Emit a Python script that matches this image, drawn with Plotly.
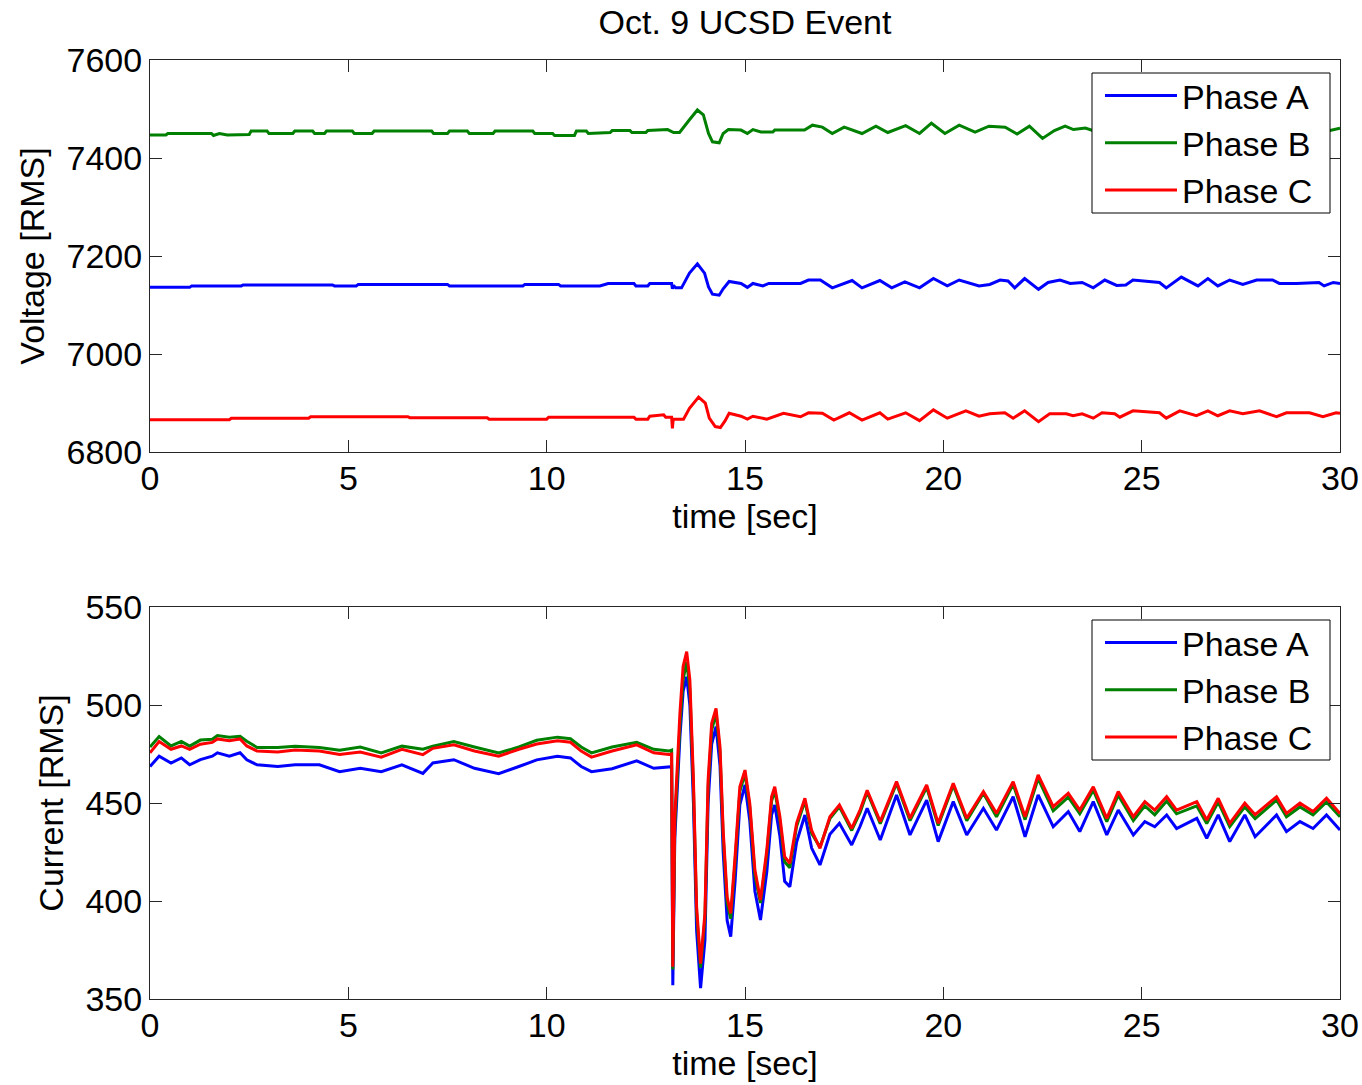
import plotly.graph_objects as go

# ---------------- Voltage data (top panel) ----------------
t_vA = [0, 1.0, 1.05, 2.3, 2.35, 4.6, 4.65, 5.2, 5.25, 7.5, 7.55, 9.4, 9.45, 10.3, 10.35, 11.34,
        11.55, 12.2, 12.25, 12.55, 12.6, 13.15, 13.17, 13.2, 13.25, 13.4, 13.6, 13.8, 13.98, 14.08,
        14.18, 14.35, 14.45, 14.6, 14.9, 15.06, 15.2, 15.45, 15.6, 16.4, 16.6, 16.9, 17.2, 17.7,
        17.95, 18.4, 18.7, 19.03, 19.4, 19.75, 20.1, 20.4, 20.9, 21.17, 21.43, 21.63, 21.8, 22.05,
        22.4, 22.64, 22.94, 23.2, 23.5, 23.78, 24.07, 24.37, 24.6, 24.78, 25.45, 25.62, 26.0, 26.42,
        26.67, 26.92, 27.22, 27.55, 27.9, 28.3, 28.47, 28.9, 29.47, 29.6, 29.83, 30.0]
vA = [7136, 7136, 7139, 7139, 7141, 7141, 7139, 7139, 7142, 7142, 7139, 7139, 7142, 7142, 7139, 7139,
      7144, 7144, 7139, 7139, 7144, 7144, 7133, 7140, 7135, 7135, 7165, 7184, 7165, 7137,
      7122, 7120, 7133, 7148, 7144, 7136, 7144, 7139, 7144, 7144, 7151, 7151, 7135, 7150,
      7135, 7150, 7135, 7147, 7135, 7154, 7139, 7151, 7139, 7142, 7151, 7149, 7135, 7154,
      7132, 7146, 7151, 7144, 7146, 7135, 7151, 7140, 7141, 7151, 7146, 7135, 7157, 7139,
      7154, 7139, 7151, 7142, 7151, 7151, 7144, 7144, 7146, 7139, 7146, 7144]

t_vB = [0, 0.4, 0.45, 1.55, 1.6, 1.75, 1.95, 2.5, 2.55, 2.95, 3.0, 3.6, 3.65, 4.1, 4.15, 4.4, 4.45,
        5.1, 5.15, 5.6, 5.65, 7.1, 7.15, 7.5, 7.55, 8.0, 8.05, 8.65, 8.7, 9.65, 9.7, 10.15, 10.2,
        10.7, 10.75, 11.0, 11.05, 11.6, 11.65, 12.1, 12.15, 12.5, 12.55, 13.05, 13.2, 13.35, 13.6,
        13.8, 13.95, 14.08, 14.18, 14.35, 14.45, 14.58, 14.9, 15.06, 15.2, 15.4, 15.7, 15.75, 16.5,
        16.7, 16.95, 17.2, 17.5, 17.95, 18.3, 18.6, 19.05, 19.4, 19.7, 20.04, 20.4, 20.8, 21.15,
        21.56, 21.86, 22.17, 22.5, 22.8, 23.07, 23.28, 23.58, 23.84, 24.2, 24.6, 25.0, 25.4, 25.9,
        26.3, 26.7, 27.1, 27.6, 28.0, 28.5, 28.9, 29.4, 29.75, 30.0]
vB = [7447, 7447, 7450, 7450, 7446, 7450, 7447, 7448, 7455, 7455, 7450, 7450, 7455, 7455, 7450, 7450, 7455,
      7455, 7450, 7450, 7455, 7455, 7450, 7450, 7455, 7455, 7450, 7450, 7455, 7455, 7450, 7450, 7446,
      7446, 7455, 7455, 7450, 7452, 7456, 7456, 7452, 7452, 7456, 7458, 7452, 7452, 7478,
      7498, 7488, 7450, 7433, 7431, 7450, 7458, 7457, 7450, 7458, 7453, 7453, 7457, 7457,
      7467, 7463, 7450, 7463, 7450, 7465, 7452, 7466, 7450, 7471, 7450, 7467, 7453, 7465,
      7463, 7449, 7465, 7440, 7456, 7465, 7458, 7461, 7454, 7462, 7452, 7460, 7451, 7463,
      7452, 7461, 7450, 7460, 7452, 7461, 7452, 7458, 7456, 7461]

t_vC = [0, 2.0, 2.05, 4.0, 4.05, 6.5, 6.55, 8.5, 8.55, 10.0, 10.05, 12.2, 12.25, 12.55, 12.6, 12.95,
        13.0, 13.15, 13.17, 13.19, 13.45, 13.6, 13.83, 14.0, 14.1, 14.25, 14.38, 14.5, 14.6, 14.9,
        15.06, 15.2, 15.55, 15.97, 16.4, 16.6, 16.95, 17.24, 17.63, 17.95, 18.4, 18.6, 19.05, 19.4,
        19.75, 20.1, 20.57, 20.9, 21.17, 21.55, 21.76, 22.05, 22.4, 22.68, 23.1, 23.27, 23.5, 23.78,
        24.0, 24.32, 24.45, 24.78, 25.45, 25.62, 25.96, 26.38, 26.67, 26.92, 27.22, 27.55, 27.97,
        28.4, 28.65, 29.23, 29.57, 29.9, 30.0]
vC = [6866, 6866, 6869, 6869, 6872, 6872, 6870, 6870, 6867, 6867, 6871, 6871, 6867, 6867, 6873, 6876,
      6871, 6871, 6848, 6867, 6867, 6889, 6912, 6900, 6869, 6852, 6850, 6864, 6879, 6873,
      6867, 6873, 6867, 6879, 6872, 6880, 6879, 6865, 6880, 6865, 6880, 6867, 6880, 6864,
      6886, 6869, 6884, 6873, 6878, 6880, 6869, 6884, 6862, 6878, 6878, 6874, 6878, 6869,
      6880, 6878, 6871, 6884, 6880, 6869, 6884, 6874, 6884, 6874, 6884, 6878, 6884,
      6872, 6880, 6880, 6872, 6880, 6879]

# ---------------- Current data (bottom panel) ----------------
t_i = [0, 0.23, 0.53, 0.79, 1.0, 1.27, 1.57, 1.7, 2.0, 2.27, 2.44, 2.7, 3.22, 3.66, 4.27, 4.78,
       5.3, 5.83, 6.35, 6.88, 7.13, 7.66, 8.18, 8.79, 9.3, 9.75, 10.27, 10.6, 10.87, 11.13, 11.65,
       12.27, 12.7, 13.08,
       13.15, 13.18, 13.23, 13.36, 13.44, 13.53, 13.61, 13.70, 13.78, 13.88, 13.99, 14.07, 14.16,
       14.27, 14.37, 14.45, 14.55, 14.64, 14.75, 14.87, 15.0, 15.12, 15.25, 15.39, 15.55, 15.67,
       15.75, 15.88, 16.0, 16.13, 16.3, 16.51, 16.68, 16.89, 17.14, 17.38, 17.69, 17.9, 18.08,
       18.41, 18.82, 19.16, 19.58, 19.87, 20.25, 20.59, 21.01,
       21.34, 21.76, 22.06, 22.39, 22.77, 23.15, 23.44, 23.78, 24.12, 24.41, 24.79, 25.08, 25.33,
       25.63, 25.88, 26.39, 26.64, 26.93, 27.22, 27.6, 27.86, 28.4, 28.65, 28.99, 29.32, 29.66, 30.0]
iA = [468.6, 473.9, 470.4, 473.0, 469.5, 472.1, 473.9, 475.6, 473.9, 475.6, 472.0, 469.5, 468.6, 469.5,
      469.5, 466.0, 467.7, 466.0, 469.5, 465.1, 470.4, 472.1, 467.7, 465.0, 468.6, 472.0, 473.9, 473.0,
      468.6, 466.0, 467.5, 471.5, 467.7, 468.6,
      468.5, 357.0, 432.0, 484.0, 507.0, 514.4, 500.0, 450.0, 385.0, 355.5, 380.0, 450.0, 480.0,
      489.0, 469.0, 425.0, 390.0, 381.8, 410.0, 449.0, 459.2, 441.0, 405.0, 390.3, 415.0, 444.0,
      449.0, 433.0, 410.0, 407.3, 430.0, 443.9, 427.0, 418.4, 434.0, 439.6, 428.6, 438.0, 447.3,
      431.1, 454.1, 433.7, 451.5, 430.3, 450.7, 433.7, 447.3,
      436.2, 453.2, 432.8, 454.1, 437.9, 445.6, 435.4, 450.7, 433.7, 446.4, 433.7, 440.5, 437.9,
      443.9, 437.0, 442.2, 432.0, 443.9, 430.3, 443.9, 432.8, 443.9, 435.4, 440.5, 437.0, 443.9, 436.2]
iB = [478.6, 483.9, 479.1, 481.4, 479.0, 482.1, 482.5, 484.4, 483.6, 484.0, 481.5, 478.3, 478.3, 479.0,
      478.3, 476.9, 478.6, 475.6, 479.0, 477.4, 479.0, 481.3, 478.6, 475.5, 478.6, 482.0, 483.6, 482.8,
      478.6, 475.6, 478.6, 481.0, 477.4, 476.5,
      477.0, 365.0, 438.0, 490.0, 513.0, 522.0, 508.0, 458.0, 394.0, 366.0, 391.0, 458.0, 487.0,
      496.0, 476.0, 433.0, 399.0, 391.0, 420.0, 456.0, 465.0, 448.0, 413.0, 399.0, 424.0, 451.0,
      456.5, 441.0, 420.0, 417.0, 438.0, 451.0, 434.5, 427.5, 442.0, 448.0, 436.0, 445.0, 455.5,
      439.5, 460.0, 441.0, 458.0, 438.5, 459.0, 441.0, 455.0,
      443.0, 459.5, 441.5, 462.5, 446.0, 453.0, 444.5, 456.5, 440.5, 454.0, 441.0, 448.5, 444.0,
      451.0, 444.5, 448.5, 439.5, 450.5, 438.0, 448.0, 442.0, 451.5, 443.0, 448.0, 444.0, 450.5, 443.0]
iC = [475.6, 481.4, 477.4, 479.1, 477.4, 480.0, 480.9, 482.7, 481.8, 482.7, 479.1, 476.5, 476.0, 477.0,
      476.5, 474.7, 476.0, 473.4, 477.4, 474.7, 477.9, 479.7, 476.5, 473.9, 477.4, 480.1, 481.8, 481.0,
      476.5, 473.4, 476.5, 479.7, 475.6, 474.7,
      475.0, 366.5, 443.0, 496.0, 519.6, 527.2, 512.8, 461.7, 397.0, 368.0, 393.7, 461.7, 490.7,
      498.3, 478.7, 436.0, 402.0, 393.7, 422.6, 458.3, 466.8, 449.8, 415.8, 400.5, 426.0, 453.2,
      458.3, 443.0, 422.6, 419.2, 439.6, 452.4, 436.0, 426.9, 443.0, 449.0, 437.0, 446.4, 456.5,
      440.5, 460.9, 442.2, 459.2, 439.6, 460.0, 442.2, 455.8,
      444.7, 460.9, 443.0, 464.3, 448.1, 455.0, 446.4, 458.3, 442.2, 455.8, 443.0, 450.7, 446.4,
      453.2, 446.4, 450.7, 441.3, 452.4, 439.6, 449.9, 444.0, 453.2, 444.7, 449.9, 445.6, 452.4, 444.7]

names = ["Phase A", "Phase B", "Phase C"]
colors = ["#0000ff", "#008000", "#ff0000"]
x_ticks = [0, 5, 10, 15, 20, 25, 30]
v_ticks = [6800, 7000, 7200, 7400, 7600]
i_ticks = [350, 400, 450, 500, 550]

FONT = "Liberation Sans, Arial, Helvetica, sans-serif"
FS = 34
W, H = 1362, 1085
ML, MR, MT, MB = 150, 22, 60, 86
plot_w = W - ML - MR
plot_h = H - MT - MB

def px(pix):
    return (pix - ML) / plot_w

def py(pix):
    return (H - MB - pix) / plot_h

fig = go.Figure()
for tt, vv, nm, c in zip([t_vA, t_vB, t_vC], [vA, vB, vC], names, colors):
    fig.add_trace(go.Scatter(x=tt, y=vv, name=nm, mode="lines", line=dict(color=c, width=3),
                             xaxis="x", yaxis="y", legend="legend"))
for vv, nm, c in zip([iA, iB, iC], names, colors):
    fig.add_trace(go.Scatter(x=t_i, y=vv, name=nm, mode="lines", line=dict(color=c, width=3),
                             xaxis="x2", yaxis="y2", legend="legend2"))

axis_common = dict(showline=True, linecolor="#262626", linewidth=1, mirror="ticks",
                   ticks="inside", ticklen=12, tickcolor="#262626", tickwidth=1,
                   showgrid=False, zeroline=False, tickfont=dict(size=FS, color="black"),
                   automargin=False)

# legend frames (white boxes with black border, as in the original)
for top, bot in [(73, 213), (620, 760)]:
    fig.add_shape(type="rect", xref="paper", yref="paper",
                  x0=px(1092), x1=px(1330), y0=py(bot), y1=py(top),
                  fillcolor="white", line=dict(color="black", width=1), layer="above")

legend_common = dict(xanchor="left", yanchor="top", bgcolor="rgba(0,0,0,0)", borderwidth=0,
                     itemwidth=72, font=dict(size=FS), tracegroupgap=0)

fig.update_layout(
    width=W, height=H,
    margin=dict(l=ML, r=MR, t=MT, b=MB),
    paper_bgcolor="white", plot_bgcolor="white",
    font=dict(family=FONT, size=FS, color="black"),
    title=dict(text="Oct. 9 UCSD Event", x=(ML + plot_w / 2) / W, xanchor="center",
               y=1 - 22 / H, yanchor="middle", yref="container", font=dict(size=FS)),
    xaxis=dict(domain=[0, 1], range=[0, 30], tickvals=x_ticks, anchor="y", ticklabelstandoff=-4,
               title=dict(text="time [sec]", standoff=8, font=dict(size=FS)), **axis_common),
    yaxis=dict(domain=[py(452), 1], range=[6800, 7600], tickvals=v_ticks, anchor="x",
               title=dict(text="Voltage [RMS]", standoff=11, font=dict(size=FS)), **axis_common),
    xaxis2=dict(domain=[0, 1], range=[0, 30], tickvals=x_ticks, anchor="y2", ticklabelstandoff=-4,
                title=dict(text="time [sec]", standoff=8, font=dict(size=FS)), **axis_common),
    yaxis2=dict(domain=[0, py(607)], range=[350, 550], tickvals=i_ticks, anchor="x2",
                title=dict(text="Current [RMS]", standoff=11, font=dict(size=FS)), **axis_common),
    legend=dict(x=px(1100), y=py(67), **legend_common),
    legend2=dict(x=px(1100), y=py(614), **legend_common),
    showlegend=True,
)

fig.write_html("out.html")
